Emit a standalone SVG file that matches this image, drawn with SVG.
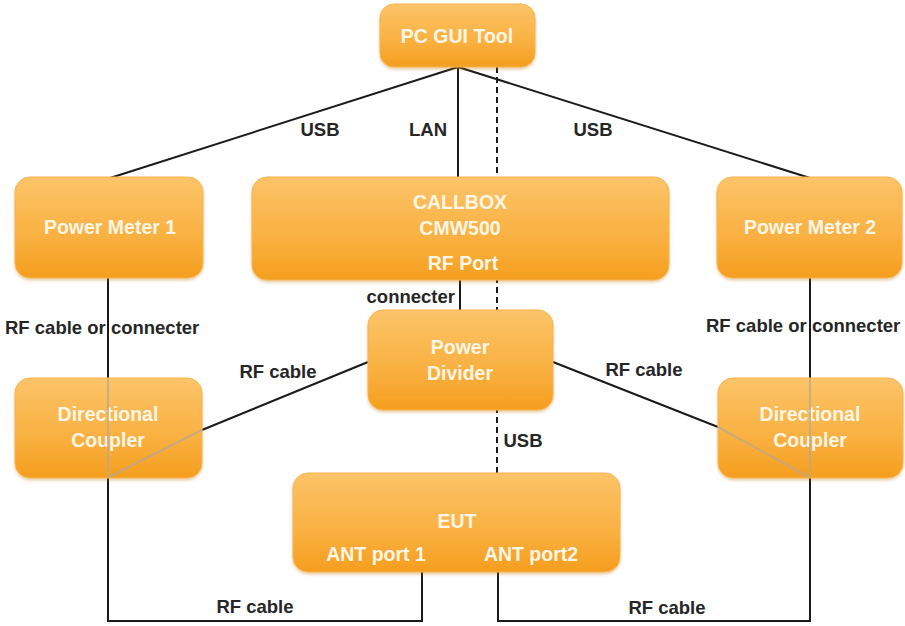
<svg xmlns="http://www.w3.org/2000/svg" width="905" height="626" viewBox="0 0 905 626">
<defs>
<linearGradient id="og" x1="0" y1="0" x2="0" y2="1">
<stop offset="0" stop-color="#FCC469"/>
<stop offset="0.6" stop-color="#F9B040"/>
<stop offset="1" stop-color="#F59E1E"/>
</linearGradient>
<filter id="sh" x="-10%" y="-10%" width="120%" height="130%">
<feGaussianBlur in="SourceAlpha" stdDeviation="1.5"/>
<feOffset dy="1.5" result="b"/>
<feFlood flood-color="#C07000" flood-opacity="0.35"/>
<feComposite in2="b" operator="in"/>
<feMerge><feMergeNode/><feMergeNode in="SourceGraphic"/></feMerge>
</filter>
</defs>
<style>
.box{fill:url(#og);stroke:#F8B44C;stroke-width:1;filter:url(#sh)}
.nt{font-family:"Liberation Sans",Arial,sans-serif;font-weight:bold;font-size:19.5px;fill:#FFF6E6;text-anchor:middle}
.lb{font-family:"Liberation Sans",Arial,sans-serif;font-weight:bold;font-size:18.5px;fill:#262626}
.c{text-anchor:middle}
.ln{stroke:#1a1a1a;stroke-width:2;fill:none}
.dash{stroke:#1a1a1a;stroke-width:2;fill:none;stroke-dasharray:6 4}
.thru{stroke:#B8A890;stroke-width:2;fill:none;opacity:0.75}
</style>
<rect width="905" height="626" fill="#FFFFFF"/>
<g id="connectors">
<line class="ln" x1="458" y1="67" x2="110" y2="178"/>
<line class="ln" x1="458" y1="67" x2="458" y2="178"/>
<line class="ln" x1="458" y1="67" x2="810" y2="178"/>
<line class="dash" x1="497" y1="67" x2="497" y2="474"/>
<line class="ln" x1="108" y1="278" x2="108" y2="379"/>
<line class="ln" x1="810" y1="278" x2="810" y2="379"/>
<line class="ln" x1="460" y1="280" x2="460" y2="311"/>
<line class="ln" x1="368" y1="362" x2="202" y2="430"/>
<line class="ln" x1="553" y1="362" x2="718" y2="427"/>
<polyline class="ln" points="108,478 108,621 422,621 422,572"/>
<polyline class="ln" points="498,572 498,621 810,621 810,478"/>
<text class="lb c" x="320" y="136">USB</text>
<text class="lb c" x="428" y="136">LAN</text>
<text class="lb c" x="593" y="136">USB</text>
<text class="lb" x="455" y="303" text-anchor="end">connecter</text>
<text class="lb" x="5" y="334">RF cable or connecter</text>
<text class="lb" x="706" y="332">RF cable or connecter</text>
<text class="lb c" x="278" y="378">RF cable</text>
<text class="lb c" x="644" y="376">RF cable</text>
<text class="lb c" x="523" y="447">USB</text>
<text class="lb c" x="255" y="613">RF cable</text>
<text class="lb c" x="667" y="614">RF cable</text>
</g>
<g id="pc-gui-tool">
<rect class="box" x="380" y="4" width="155" height="63" rx="14"/>
<text class="nt" x="457" y="43">PC GUI Tool</text>
</g>
<g id="power-meter-1">
<rect class="box" x="15" y="177" width="188" height="101" rx="15"/>
<text class="nt" x="110" y="234">Power Meter 1</text>
</g>
<g id="callbox">
<rect class="box" x="252" y="177" width="417" height="103" rx="15"/>
<text class="nt" x="460" y="209">CALLBOX</text>
<text class="nt" x="460" y="235">CMW500</text>
<text class="nt" x="463" y="270">RF Port</text>
</g>
<g id="power-meter-2">
<rect class="box" x="717" y="177" width="185" height="101" rx="15"/>
<text class="nt" x="810" y="234">Power Meter 2</text>
</g>
<g id="power-divider">
<rect class="box" x="368" y="310" width="185" height="100" rx="15"/>
<text class="nt" x="460" y="354">Power</text>
<text class="nt" x="460" y="380">Divider</text>
</g>
<g id="directional-coupler-1">
<rect class="box" x="15" y="378" width="187" height="100" rx="15"/>
<text class="nt" x="108" y="421">Directional</text>
<text class="nt" x="108" y="447">Coupler</text>
</g>
<g id="directional-coupler-2">
<rect class="box" x="718" y="378" width="185" height="100" rx="15"/>
<text class="nt" x="810" y="421">Directional</text>
<text class="nt" x="810" y="447">Coupler</text>
</g>
<g id="eut">
<rect class="box" x="293" y="473" width="327" height="99" rx="15"/>
<text class="nt" x="457" y="528">EUT</text>
<text class="nt" x="376" y="561">ANT port 1</text>
<text class="nt" x="531" y="561">ANT port2</text>
</g>
<g id="coupler-pass-through">
<line class="thru" x1="108" y1="379" x2="108" y2="477"/>
<line class="thru" x1="202" y1="430" x2="109" y2="477"/>
<line class="thru" x1="810" y1="379" x2="810" y2="477"/>
<line class="thru" x1="718" y1="427" x2="809" y2="477"/>
</g>
</svg>
